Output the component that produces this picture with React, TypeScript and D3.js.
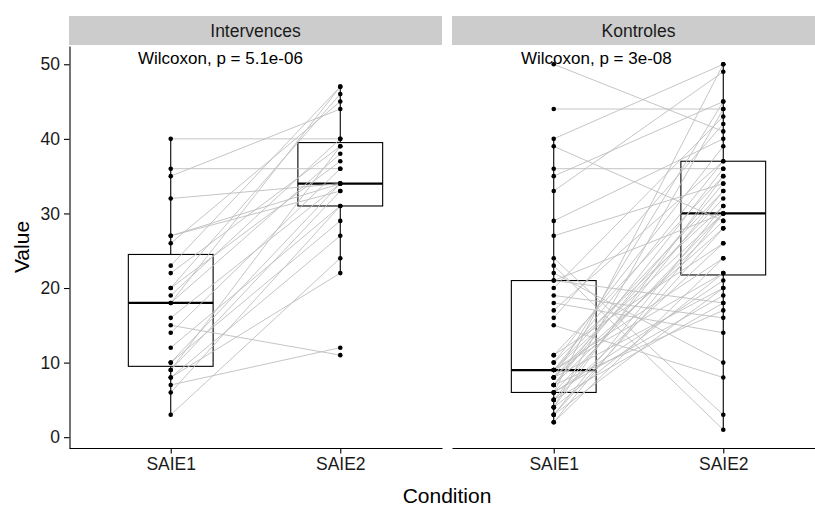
import React, { useEffect, useRef } from 'react';
import * as d3 from 'd3';

const conditions = ['SAIE1', 'SAIE2'];
const panelNames = ['Intervences', 'Kontroles'];
const pLabels = ['Wilcoxon, p = 5.1e-06', 'Wilcoxon, p = 3e-08'];
const yTicks = [0, 10, 20, 30, 40, 50];

// one entry per subject, SAIE1[i] is paired with SAIE2[i]
const intervSaie1 = [40, 36, 35, 32, 27, 27, 26, 23, 22, 20, 20, 19, 18, 18, 16, 15, 14, 12, 10, 10, 9, 9, 8, 8, 7, 6, 3];
const intervSaie2 = [40, 36, 44, 34, 34, 33, 45, 47, 39, 46, 37, 40, 38, 47, 34, 11, 36, 31, 29, 34, 39, 33, 27, 22, 12, 31, 24];

const kontrSaie1 = [50, 44, 40, 39, 36, 35, 33, 29, 27, 24, 23, 22, 21, 21, 20, 19, 18, 17, 16, 15, 11, 11, 10, 10, 9, 9, 9, 9, 9, 8, 8, 8, 8, 7, 7, 7, 7, 6, 6, 6, 6, 5, 5, 5, 4, 4, 4, 3, 3, 3, 2, 2];
const kontrSaie2 = [41, 44, 50, 29, 36, 45, 49, 40, 34, 3, 1, 10, 18, 30, 43, 16, 14, 37, 42, 8, 35, 26, 39, 31, 33, 30, 24, 37, 22, 45, 32, 28, 20, 36, 29, 17, 34, 30, 50, 21, 19, 26, 33, 18, 44, 35, 22, 31, 28, 20, 24, 30];

const FONT = '"Liberation Sans", Arial, sans-serif';

const boxStats = (vals: number[]) => {
    const s = [...vals].sort(d3.ascending);
    const q1 = d3.quantile(s, 0.25)!;
    const med = d3.quantile(s, 0.5)!;
    const q3 = d3.quantile(s, 0.75)!;
    const iqr = q3 - q1;
    const lo = d3.min(s.filter(v => v >= q1 - 1.5 * iqr))!;
    const hi = d3.max(s.filter(v => v <= q3 + 1.5 * iqr))!;
    return { q1, med, q3, lo, hi };
};

const App = () => {
    const svgRef = useRef<SVGSVGElement>(null);
    const width = 815;
    const height = 506;

    useEffect(() => {
        const svg = d3.select(svgRef.current);
        svg.selectAll('*').remove();

        const top = 46;
        const bottom = 448;
        const panels = [
            { left: 69, right: 442, s1: intervSaie1, s2: intervSaie2 },
            { left: 452, right: 825, s1: kontrSaie1, s2: kontrSaie2 },
        ];

        const y = d3.scaleLinear().domain([-1.45, 52.45]).range([bottom, top]);

        panels.forEach((p, pi) => {
            const x = d3.scalePoint().domain(conditions).range([p.left, p.right]).padding(0.6);
            const g = svg.append('g');
            const boxW = x.step() * 0.5;

            // strip
            g.append('rect')
                .attr('x', p.left).attr('y', 16)
                .attr('width', p.right - p.left).attr('height', top - 1 - 16)
                .attr('fill', '#cccccc');
            g.append('text')
                .attr('x', (p.left + p.right) / 2).attr('y', 37)
                .attr('text-anchor', 'middle')
                .attr('font-family', FONT).attr('font-size', 17.5)
                .attr('fill', '#1a1a1a')
                .text(panelNames[pi]);

            // boxplots
            [p.s1, p.s2].forEach((vals, ci) => {
                const st = boxStats(vals);
                const cx = x(conditions[ci])!;
                g.append('line')
                    .attr('x1', cx).attr('x2', cx)
                    .attr('y1', y(st.hi)).attr('y2', y(st.q3))
                    .attr('stroke', '#000').attr('stroke-width', 1.1);
                g.append('line')
                    .attr('x1', cx).attr('x2', cx)
                    .attr('y1', y(st.q1)).attr('y2', y(st.lo))
                    .attr('stroke', '#000').attr('stroke-width', 1.1);
                g.append('rect')
                    .attr('x', cx - boxW / 2).attr('y', y(st.q3))
                    .attr('width', boxW).attr('height', y(st.q1) - y(st.q3))
                    .attr('fill', '#fff').attr('stroke', '#000').attr('stroke-width', 1.1);
                g.append('line')
                    .attr('x1', cx - boxW / 2).attr('x2', cx + boxW / 2)
                    .attr('y1', y(st.med)).attr('y2', y(st.med))
                    .attr('stroke', '#000').attr('stroke-width', 2.2);
            });

            // paired lines
            g.selectAll('line.pair')
                .data(p.s1.map((v, i) => [v, p.s2[i]]))
                .enter()
                .append('line')
                .attr('class', 'pair')
                .attr('x1', x('SAIE1')!).attr('x2', x('SAIE2')!)
                .attr('y1', d => y(d[0])).attr('y2', d => y(d[1]))
                .attr('stroke', '#bebebe').attr('stroke-width', 0.9);

            // points
            [p.s1, p.s2].forEach((vals, ci) => {
                g.selectAll(`circle.c${ci}`)
                    .data(vals)
                    .enter()
                    .append('circle')
                    .attr('class', `c${ci}`)
                    .attr('cx', x(conditions[ci])!)
                    .attr('cy', d => y(d))
                    .attr('r', 2.3)
                    .attr('fill', '#000');
            });

            // wilcoxon label
            g.append('text')
                .attr('x', p.left + 69).attr('y', 64)
                .attr('font-family', FONT).attr('font-size', 17)
                .attr('fill', '#000')
                .text(pLabels[pi]);

            // x axis
            const xAxis = g.append('g')
                .attr('transform', `translate(0, ${bottom})`)
                .call(d3.axisBottom(x).tickSizeInner(5.5).tickSizeOuter(0).tickPadding(4));
            xAxis.select('.domain').attr('stroke', '#000').attr('stroke-width', 1.1);
            xAxis.selectAll('.tick line').attr('stroke', '#000').attr('stroke-width', 1.1);
            xAxis.selectAll('text')
                .attr('font-family', FONT).attr('font-size', 17.5)
                .attr('fill', '#1a1a1a');
        });

        // y axis
        const yAxis = svg.append('g')
            .attr('transform', 'translate(69.5, 0)')
            .call(d3.axisLeft(y).tickValues(yTicks).tickSizeInner(5.5).tickSizeOuter(0).tickPadding(4));
        yAxis.select('.domain').attr('stroke', '#000').attr('stroke-width', 1.1);
        yAxis.selectAll('.tick line').attr('stroke', '#000').attr('stroke-width', 1.1);
        yAxis.selectAll('text')
            .attr('font-family', FONT).attr('font-size', 17.5)
            .attr('fill', '#1a1a1a');

        // axis titles
        svg.append('text')
            .attr('x', 447).attr('y', 503)
            .attr('text-anchor', 'middle')
            .attr('font-family', FONT).attr('font-size', 21)
            .attr('fill', '#000')
            .text('Condition');
        svg.append('text')
            .attr('transform', `translate(29, ${(top + bottom) / 2}) rotate(-90)`)
            .attr('text-anchor', 'middle')
            .attr('font-family', FONT).attr('font-size', 21)
            .attr('fill', '#000')
            .text('Value');
    }, []);

    return (
        <svg ref={svgRef} width={width} height={height}
            style={{ position: 'absolute', left: 0, top: 0, background: '#fff' }}></svg>
    );
};

export default App;
